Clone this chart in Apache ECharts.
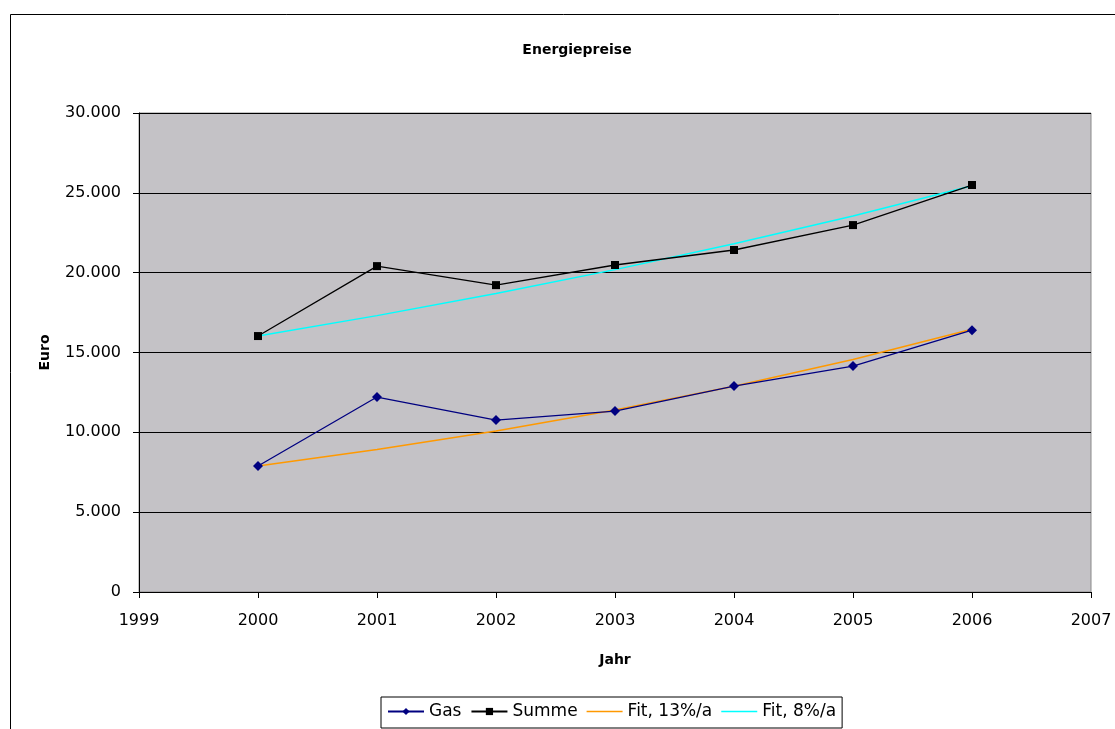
<!DOCTYPE html>
<html>
	<head>
		<meta charset="utf-8">
		<title>Energiepreise</title>
		<style type="text/css">
			* {
				margin: 0;
				padding: 0;
			}

			html,
			body {
				width: 100%;
				height: 100%;
				background: #fff;
			}

			#box {
				width: 1115px;
				height: 729px;
			}
		</style>
	</head>
	<body>
		<div id="box"></div>
		<script src="https://cdn.jsdelivr.net/npm/echarts@6/dist/echarts.min.js"></script>
		<script type="text/javascript">
			var jahre = [2000, 2001, 2002, 2003, 2004, 2005, 2006]
			var gas = [7890, 12210, 10770, 11330, 12900, 14150, 16400]
			var summe = [16030, 20410, 19220, 20480, 21420, 22980, 25490]
			var fit13 = [7890, 8930, 10090, 11400, 12880, 14560, 16450]
			var fit8 = [16030, 17310, 18700, 20190, 21810, 23550, 25440]

			function paare(werte) {
				let arr = []
				for (let i = 0; i < jahre.length; i++) {
					arr.push([jahre[i], werte[i]])
				}
				return arr
			}

			var schrift = 'DejaVu Sans'
			// duenner Strich als Legendensymbol fuer die Fit-Linien
			var strich = 'path://M0,0 L36,0 L36,1.5 L0,1.5 Z'

			var myChart = echarts.init(document.getElementById('box'));
			var option = {
				animation: false,
				textStyle: {
					fontFamily: schrift
				},
				graphic: [{
					type: 'rect',
					shape: { x: 10.5, y: 14.5, width: 1300, height: 900 },
					style: { fill: 'none', stroke: '#000', lineWidth: 1 },
					z: -10
				}],
				title: {
					text: 'Energiepreise',
					left: 572,
					top: 38,
					textAlign: 'center',
					textStyle: {
						fontSize: 14,
						fontWeight: 'bold',
						color: '#000'
					}
				},
				legend: {
					left: 381,
					top: 697,
					padding: [6, 6, 8, 6],
					itemGap: 9,
					itemWidth: 36,
					itemHeight: 9,
					borderColor: '#000',
					borderWidth: 1,
					textStyle: {
						fontSize: 17,
						color: '#000'
					},
					data: [
						'Gas',
						'Summe',
						{ name: 'Fit, 13%/a', icon: strich },
						{ name: 'Fit, 8%/a', icon: strich }
					]
				},
				grid: {
					left: 139,
					top: 113,
					right: 24,
					bottom: 137,
					show: true,
					backgroundColor: '#c4c2c6',
					borderColor: '#8a8a8a',
					borderWidth: 1
				},
				xAxis: {
					type: 'value',
					min: 1999,
					max: 2007,
					interval: 1,
					name: 'Jahr',
					nameLocation: 'middle',
					nameGap: 61,
					nameTextStyle: {
						fontSize: 14,
						fontWeight: 'bold',
						color: '#000'
					},
					axisLine: { show: true, lineStyle: { color: '#000' } },
					axisTick: { show: true, length: 6, lineStyle: { color: '#000' } },
					axisLabel: {
						fontSize: 16,
						color: '#000',
						margin: 21,
						formatter: function(v) {
							return String(v)
						}
					},
					splitLine: { show: false }
				},
				yAxis: {
					type: 'value',
					min: 0,
					max: 30000,
					interval: 5000,
					name: 'Euro',
					nameLocation: 'middle',
					nameGap: 87,
					nameTextStyle: {
						fontSize: 14,
						fontWeight: 'bold',
						color: '#000'
					},
					axisLine: { show: true, lineStyle: { color: '#000' } },
					axisTick: { show: true, length: 6, lineStyle: { color: '#000' } },
					axisLabel: {
						fontSize: 16,
						color: '#000',
						margin: 18,
						formatter: function(v) {
							return v === 0 ? '0' : (v / 1000).toFixed(0) + '.000'
						}
					},
					splitLine: { show: true, lineStyle: { color: '#000', width: 1 } }
				},
				series: [{
						name: 'Gas',
						type: 'line',
						data: paare(gas),
						symbol: 'diamond',
						symbolSize: 10,
						color: '#000080',
						lineStyle: { color: '#000080', width: 1.3 },
						itemStyle: { color: '#000080' },
						z: 3
					},
					{
						name: 'Summe',
						type: 'line',
						data: paare(summe),
						symbol: 'rect',
						symbolSize: 8,
						color: '#000',
						lineStyle: { color: '#000', width: 1.3 },
						itemStyle: { color: '#000' },
						z: 3
					},
					{
						name: 'Fit, 13%/a',
						type: 'line',
						data: paare(fit13),
						symbol: 'none',
						color: '#ff9900',
						lineStyle: { color: '#ff9900', width: 1.5 },
						z: 2
					},
					{
						name: 'Fit, 8%/a',
						type: 'line',
						data: paare(fit8),
						symbol: 'none',
						color: '#00ffff',
						lineStyle: { color: '#00ffff', width: 1.5 },
						z: 2
					}
				]
			};
			myChart.setOption(option);
		</script>
	</body>
</html>
